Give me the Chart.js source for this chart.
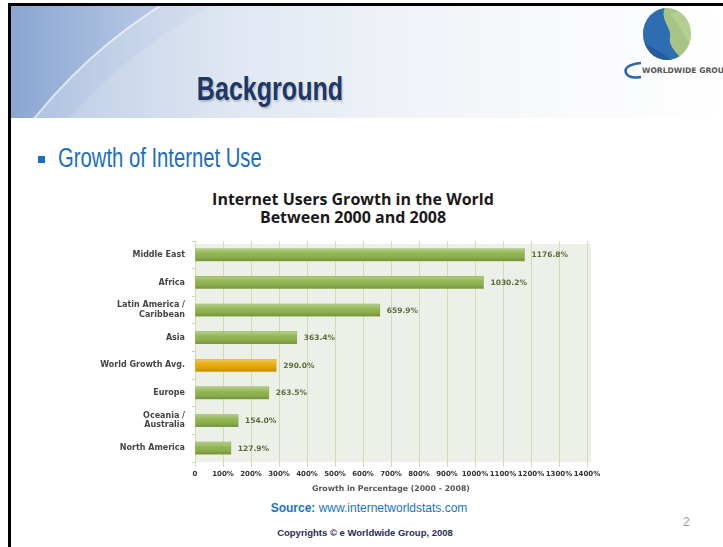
<!DOCTYPE html>
<html>
<head>
<meta charset="utf-8">
<script src="https://cdn.jsdelivr.net/npm/chart.js@4.4.1/dist/chart.umd.min.js"></script>
<style>
html, body { margin: 0; padding: 0; background: #fff; }
body { width: 723px; height: 547px; position: relative; overflow: hidden; font-family: "Liberation Sans", Arial, sans-serif; }
.abs { position: absolute; line-height: 1; white-space: nowrap; }
#band { left: 11px; top: 6px; width: 712px; height: 112px; overflow: hidden;
  background: linear-gradient(90deg, #8aa6d2 0%, #a9bedf 14%, #cfdaec 32%, #e7ecf4 55%, #f6f8fb 80%, #ffffff 100%); }
#swoosh { left: -90px; top: -80px; width: 1020px; height: 1020px; border-radius: 50%;
  background: rgba(255,255,255,0.28); border: 2px solid rgba(255,255,255,0.55); }
#swoosh2 { left: -70px; top: -60px; width: 1020px; height: 1020px; border-radius: 50%;
  background: rgba(255,255,255,0.15); }
#topline { left: 8px; top: 3px; width: 715px; height: 3px; background: #000; }
#leftline { left: 8px; top: 3px; width: 3px; height: 544px; background: #000; }
#heading { left: 120px; top: 72px; width: 300px; text-align: center; font-size: 33px; font-weight: bold;
  color: #1d3766; text-shadow: 1.5px 1.5px 2px rgba(0,0,0,0.18); transform: scaleX(0.76); transform-origin: 50% 50%; }
#bullet { left: 38px; top: 156px; width: 7px; height: 7px; background: #1b6ec2; }
#sub { left: 58px; top: 145px; font-size: 27px; color: #1b6ec2; transform: scaleX(0.75); transform-origin: 0 50%; }
#ctitle { left: 153px; top: 190px; width: 400px; text-align: center; font-family: "Open Sans", sans-serif;
  font-weight: bold; font-size: 16px; line-height: 18px; color: #1a1a1a; white-space: pre; }
#source { left: 219px; top: 502px; width: 300px; text-align: center; font-size: 12px; color: #1b73c9; }
#copy { left: 215px; top: 528px; width: 300px; text-align: center; font-size: 9.5px; font-weight: bold; color: #1f2d55; }
#page { left: 683px; top: 516px; font-size: 12px; color: #999; }
#c { position: absolute; left: 0; top: 0; }
</style>
</head>
<body>
<div id="band" class="abs"><div id="swoosh" class="abs"></div><div id="swoosh2" class="abs"></div></div>
<div id="topline" class="abs"></div>
<div id="leftline" class="abs"></div>
<svg class="abs" style="left:620px;top:4px" width="103" height="80">
  <defs><clipPath id="globe"><ellipse cx="47" cy="30" rx="24" ry="26"/></clipPath></defs>
  <g clip-path="url(#globe)">
    <rect x="0" y="0" width="103" height="80" fill="#a6c585"/>
    <path d="M46 2 C 38 14, 52 24, 50 33 C 48 43, 58 50, 66 60 L 0 60 L 0 0 Z" fill="#2e6db2"/>
    <path d="M 22 38 C 32 44, 44 48, 56 60 L 18 60 Z" fill="#1d4f8c" opacity="0.55"/>
    <path d="M 50 10 C 58 18, 62 30, 70 40 L 80 40 L 80 0 Z" fill="#c2d8a2" opacity="0.5"/>
  </g>
  <path d="M 21 59 Q 3 61 6 69 Q 9 75 21 73" fill="none" stroke="#2a64ae" stroke-width="2.6"/>
  <text x="22" y="69" font-family="DejaVu Sans" font-weight="bold" font-size="7.6" fill="#555">WORLDWIDE GROUP</text>
</svg>
<div id="heading" class="abs">Background</div>
<div id="bullet" class="abs"></div>
<div id="sub" class="abs">Growth of Internet Use</div>
<div id="ctitle" class="abs">Internet Users Growth in the World
Between 2000 and 2008</div>
<div id="source" class="abs"><b>Source:</b> www.internetworldstats.com</div>
<div id="copy" class="abs">Copyrights © e Worldwide Group, 2008</div>
<div id="page" class="abs">2</div>
<canvas id="c" width="723" height="547"></canvas>
<script>
// data
const regions = [['Middle East'], ['Africa'], ['Latin America /', 'Caribbean'], ['Asia'],
  ['World Growth Avg.'], ['Europe'], ['Oceania /', 'Australia'], ['North America']];
const growthPct = [1176.8, 1030.2, 659.9, 363.4, 290.0, 263.5, 154.0, 127.9];
const xTickLabels = ['0', '100%', '200%', '300%', '400%', '500%', '600%', '700%',
  '800%', '900%', '1000%', '1100%', '1200%', '1300%', '1400%'];
const avgLabel = 'World Growth Avg.';

const green = '#8ab047';
const gold = '#e9a800';

const plotBg = {
  id: 'plotBg',
  beforeDraw(chart) {
    const a = chart.chartArea, ctx = chart.ctx;
    ctx.save();
    ctx.fillStyle = '#edf0e8';
    ctx.fillRect(a.left, a.top + 3, a.right - a.left + 4, a.bottom - a.top - 3);
    ctx.restore();
  }
};

// shading on the bars + value labels
const barDeco = {
  id: 'barDeco',
  afterDatasetsDraw(chart) {
    const ctx = chart.ctx;
    const meta = chart.getDatasetMeta(0);
    ctx.save();
    meta.data.forEach((bar, i) => {
      const h = bar.height, top = bar.y - h / 2;
      const g = ctx.createLinearGradient(0, top, 0, top + h);
      g.addColorStop(0, 'rgba(255,255,255,0.35)');
      g.addColorStop(0.45, 'rgba(255,255,255,0.05)');
      g.addColorStop(1, 'rgba(0,0,0,0.18)');
      ctx.fillStyle = g;
      ctx.fillRect(bar.base, top, bar.x - bar.base, h);
      ctx.fillStyle = '#5a6a3a';
      ctx.font = 'bold 7.5px "DejaVu Sans"';
      ctx.textBaseline = 'middle';
      ctx.textAlign = 'left';
      ctx.fillText(growthPct[i].toFixed(1) + '%', bar.x + 7, bar.y + 0.5);
    });
    ctx.restore();
  }
};

new Chart(document.getElementById('c'), {
  type: 'bar',
  data: {
    labels: regions,
    datasets: [{
      data: growthPct,
      backgroundColor: regions.map(r => r[0] === avgLabel ? gold : green),
      barThickness: 12
    }]
  },
  options: {
    indexAxis: 'y',
    responsive: false,
    animation: false,
    layout: { padding: { left: 100, right: 136, top: 241, bottom: 45 } },
    plugins: { legend: { display: false }, tooltip: { enabled: false } },
    scales: {
      y: {
        afterFit(s) { s.width = 95; },
        grid: { display: true, drawOnChartArea: false, offset: true, tickLength: 3, color: '#c9d3ae' },
        border: { display: false },
        ticks: { color: '#444', padding: 7, font: { family: 'DejaVu Sans', weight: 'bold', size: 8, lineHeight: 1.2 } }
      },
      x: {
        min: 0, max: 1400,
        afterFit(s) { s.height = 40; },
        grid: { color: '#d0dea9', tickLength: 5 },
        border: { display: false },
        ticks: {
          stepSize: 100, padding: 3, color: '#333', maxRotation: 0, autoSkip: false,
          font: { family: 'DejaVu Sans', weight: 'bold', size: 7 },
          callback: (v, i) => xTickLabels[i]
        },
        title: {
          display: true, text: 'Growth in Percentage (2000 - 2008)', color: '#555',
          font: { family: 'DejaVu Sans', weight: 'bold', size: 7.8 }, padding: { top: 4, bottom: 8 }
        }
      }
    }
  },
  plugins: [plotBg, barDeco]
});
</script>
</body>
</html>
